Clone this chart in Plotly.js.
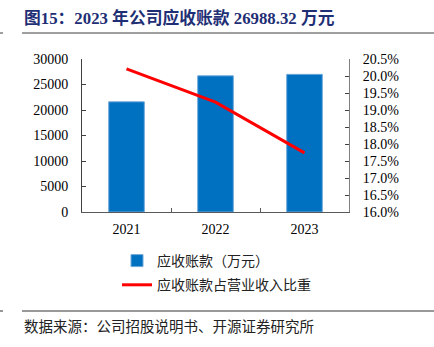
<!DOCTYPE html>
<html>
<head>
<meta charset="utf-8">
<script src="https://cdn.plot.ly/plotly-3.0.1.min.js"></script>
<style>html,body{margin:0;padding:0;background:#fff;}#chart{width:434px;height:347px;}</style>
</head>
<body>
<div id="chart"></div>
<script>
// ---- data ----
const years = ['2021', '2022', '2023'];
const receivables = [21600, 26700, 26988.32];          // 万元
const receivableRatio = [0.2021, 0.1923, 0.1774];      // 占营业收入比重
const seriesNames = ['应收账款（万元）', '应收账款占营业收入比重'];
const titleText = '图15：2023 年公司应收账款 26988.32 万元';
const sourceText = '数据来源：公司招股说明书、开源证券研究所';

// ---- layout helpers ----
const W = 434, H = 347;
const ML = 82, MR = 85, MT = 59, MB = 135;
const PW = W - ML - MR, PH = H - MT - MB;
const px = x => (x - ML) / PW;
const py = y => (H - MB - y) / PH;

const serif = '"Times New Roman", "Liberation Serif", "Noto Sans CJK SC", serif';
const cjk = '"Liberation Serif", "Noto Sans CJK SC", serif';

const traces = [
  {
    type: 'bar', x: years, y: receivables, name: seriesNames[0],
    marker: {color: '#0070C0', line: {color: '#6FA8DC', width: 1}},
    legendgroup: 'a', hoverinfo: 'skip'
  },
  {
    type: 'scatter', mode: 'lines', x: years, y: receivableRatio, name: seriesNames[1],
    yaxis: 'y2', line: {color: '#FF0000', width: 3},
    legendgroup: 'b', hoverinfo: 'skip'
  }
];

const layout = {
  width: W, height: H, autosize: false,
  margin: {l: ML, r: MR, t: MT, b: MB, pad: 0, autoexpand: false},
  paper_bgcolor: '#fff', plot_bgcolor: '#fff',
  font: {family: serif, size: 14, color: '#000'},
  bargap: 0.6,
  title: {
    text: '<b>' + titleText + '</b>',
    x: 24 / W, xanchor: 'left', xref: 'container',
    y: 1 - 18 / H, yanchor: 'middle', yref: 'container',
    font: {family: serif, size: 16.8, color: '#1F2F75'}
  },
  xaxis: {
    type: 'category', showline: true, linecolor: '#595959', linewidth: 1,
    ticks: 'inside', tickson: 'boundaries', ticklen: 4, tickcolor: '#595959',
    showgrid: false, zeroline: false, fixedrange: true, tickangle: 0,
    ticklabelstandoff: 4,
    tickfont: {family: serif, size: 14, color: '#000'}
  },
  yaxis: {
    range: [0, 30000], dtick: 5000, tickformat: 'd',
    showline: true, linecolor: '#404040', linewidth: 1,
    ticks: 'inside', ticklen: 4, tickcolor: '#404040',
    showgrid: false, zeroline: false, fixedrange: true,
    ticklabelstandoff: 10,
    tickfont: {family: serif, size: 14, color: '#000'}
  },
  yaxis2: {
    overlaying: 'y', side: 'right',
    range: [0.16, 0.205], dtick: 0.005, tickformat: '.1%',
    showline: true, linecolor: '#808080', linewidth: 1,
    ticks: 'inside', ticklen: 4, tickcolor: '#404040',
    showgrid: false, zeroline: false, fixedrange: true,
    ticklabelstandoff: 10,
    tickfont: {family: serif, size: 14, color: '#000'}
  },
  showlegend: true,
  legend: {
    xref: 'container', yref: 'container',
    x: 117 / W, xanchor: 'left', y: 1 - 245 / H, yanchor: 'top',
    orientation: 'v', traceorder: 'grouped', tracegroupgap: 3,
    font: {family: cjk, size: 14, color: '#222'},
    bgcolor: 'rgba(0,0,0,0)'
  },
  shapes: [
    {type: 'line', xref: 'paper', yref: 'paper', x0: px(22), x1: px(434), y0: py(33), y1: py(33), line: {color: '#7F7F7F', width: 1.5}},
    {type: 'line', xref: 'paper', yref: 'paper', x0: px(0), x1: px(3), y0: py(33), y1: py(33), line: {color: '#7F7F7F', width: 1.5}},
    {type: 'line', xref: 'paper', yref: 'paper', x0: px(22), x1: px(434), y0: py(311), y1: py(311), line: {color: '#333', width: 1}},
    {type: 'line', xref: 'paper', yref: 'paper', x0: px(0), x1: px(3), y0: py(311), y1: py(311), line: {color: '#333', width: 1}}
  ],
  annotations: [
    {xref: 'paper', yref: 'paper', x: px(22), y: py(327), xanchor: 'left', yanchor: 'middle',
     text: sourceText, showarrow: false, font: {family: cjk, size: 14.5, color: '#222'}}
  ]
};

Plotly.newPlot('chart', traces, layout, {displayModeBar: false, staticPlot: true});
</script>
</body>
</html>
